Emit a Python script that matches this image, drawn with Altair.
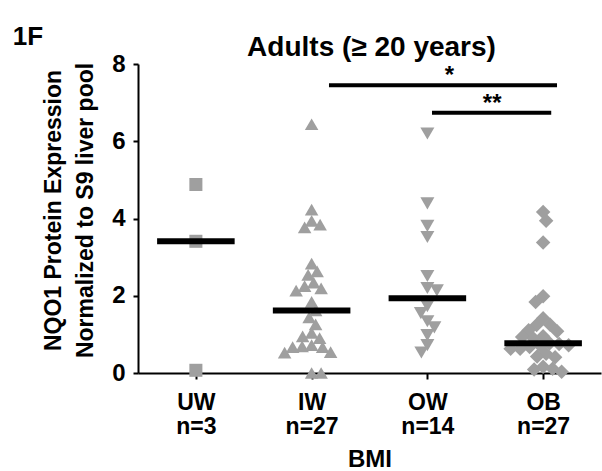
import json
import numpy as np
import pandas as pd
import altair as alt

FONT = "Liberation Sans"

panel_label = "1F"
title_text = "Adults (≥ 20 years)"
y_title = ["NQO1 Protein Expression", "Normalized to S9 liver pool"]
x_title = "BMI"
groups = ["UW", "IW", "OW", "OB"]
group_n = ["n=3", "n=27", "n=14", "n=27"]
group_shapes = ["square", "triangle-up", "triangle-down", "diamond"]
y_ticks = [0, 2, 4, 6, 8]

uw_values = [4.88, 3.41, 0.07]
iw_values = [6.44, 4.23, 3.94, 3.84, 3.77, 2.83, 2.63, 2.54, 2.34, 2.25, 2.19,
             2.13, 1.84, 1.62, 1.44, 1.26, 1.04, 0.95, 0.90, 0.72, 0.69, 0.67,
             0.67, 0.54, 0.53, 0.0, 0.0]
ow_values = [6.20, 4.39, 3.81, 3.52, 2.51, 2.20, 2.14, 1.73, 1.55, 1.34, 1.18,
             0.98, 0.72, 0.53]
ob_values = [4.17, 3.94, 3.38, 1.99, 1.84, 1.42, 1.25, 1.24, 1.11, 1.08, 0.95,
             0.93, 0.89, 0.77, 0.75, 0.72, 0.70, 0.67, 0.63, 0.63, 0.50, 0.43,
             0.41, 0.16, 0.11, 0.09, 0.03]

sig_labels = ["*", "**"]
sig_levels = [7.45, 6.74]
sig_x0 = [1.15, 2.04]
sig_x1 = [3.12, 3.07]
sig_label_x = [2.19, 2.56]

W, H = 463, 309
X_DOMAIN = [-0.5, 3.5]
Y_DOMAIN = [0, 8]
PX_X = W / (X_DOMAIN[1] - X_DOMAIN[0])
PX_Y = H / (Y_DOMAIN[1] - Y_DOMAIN[0])


def dodge(values, d=9.3, step=0.5):
    """Simple beeswarm: push each point sideways until it no longer overlaps."""
    order = sorted(range(len(values)), key=lambda i: -values[i])
    placed = []
    offs = [0.0] * len(values)
    flip = 1
    for i in order:
        ypx = values[i] * PX_Y
        k = 0
        found = None
        while found is None:
            cands = [0.0] if k == 0 else [flip * k * step, -flip * k * step]
            for c in cands:
                if all((c - px) ** 2 + (ypx - py) ** 2 >= d * d for px, py in placed):
                    found = c
                    break
            k += 1
        if found != 0:
            flip = -flip
        placed.append((found, ypx))
        offs[i] = found / PX_X
    return offs


series = [uw_values, iw_values, ow_values, ob_values]
rows = []
med_rows = []
for gi, (g, vals) in enumerate(zip(groups, series)):
    offs = dodge(vals)
    for v, o in zip(vals, offs):
        rows.append({"group": g, "value": v, "xpos": gi + o})
    med_rows.append({"group": g, "median": float(np.median(vals)),
                     "x0": gi - 0.335, "x1": gi + 0.335})
points_df = pd.DataFrame(rows)
med_df = pd.DataFrame(med_rows)
sig_df = pd.DataFrame({"label": sig_labels, "level": sig_levels,
                       "x0": sig_x0, "x1": sig_x1, "xm": sig_label_x})
panel_df = pd.DataFrame({"label": [panel_label]})
title_df = pd.DataFrame({"label": [title_text]})

label_arr = json.dumps([[g, n] for g, n in zip(groups, group_n)])

xscale = alt.Scale(domain=X_DOMAIN, nice=False, zero=False)
yscale = alt.Scale(domain=Y_DOMAIN, nice=False)

x_axis = alt.Axis(
    values=[0, 1, 2, 3], labelExpr=f"{label_arr}[datum.value]", title=x_title,
    grid=False, tickSize=6, tickWidth=2, tickColor="black",
    domainWidth=2, domainColor="black",
    labelFont=FONT, labelFontSize=23, labelFontWeight="bold", labelColor="black",
    labelBaseline="alphabetic", labelPadding=30, labelLineHeight=24,
    labelOverlap=False, labelFlush=False,
    titleFont=FONT, titleFontSize=24, titleFontWeight="bold", titleColor="black",
    titleBaseline="alphabetic", titleY=93,
)
y_axis = alt.Axis(
    values=y_ticks, title=y_title, grid=False,
    tickSize=5, tickWidth=2, tickColor="black",
    domainWidth=2, domainColor="black",
    labelFont=FONT, labelFontSize=24, labelFontWeight="bold", labelColor="black",
    labelPadding=8,
    titleFont=FONT, titleFontSize=23, titleFontWeight="bold", titleColor="black",
    titleAngle=270, titleAlign="center", titleBaseline="alphabetic",
    titleX=-78, titleY=146, titleLineHeight=32,
)

points = alt.Chart(points_df).mark_point(filled=True, opacity=1, color="#9f9f9f").encode(
    x=alt.X("xpos:Q", scale=xscale, axis=x_axis),
    y=alt.Y("value:Q", scale=yscale, axis=y_axis),
    shape=alt.Shape("group:N", scale=alt.Scale(domain=groups, range=group_shapes), legend=None),
    size=alt.Size("group:N", scale=alt.Scale(domain=groups, range=[170, 210, 210, 180]), legend=None),
)

medians = alt.Chart(med_df).mark_rule(color="black", strokeWidth=6).encode(
    x="x0:Q", x2="x1:Q", y="median:Q"
)

sig_bars = alt.Chart(sig_df).mark_rule(color="black", strokeWidth=4).encode(
    x="x0:Q", x2="x1:Q", y="level:Q"
)
sig_text = alt.Chart(sig_df).mark_text(
    font=FONT, fontSize=24, fontWeight="bold", color="black",
    baseline="alphabetic", dy=-2
).encode(x="xm:Q", y="level:Q", text="label:N")

panel = alt.Chart(panel_df).mark_text(
    font=FONT, fontSize=26, fontWeight="bold", color="black",
    align="center", baseline="middle"
).encode(x=alt.value(-110), y=alt.value(-27), text="label:N")

title = alt.Chart(title_df).mark_text(
    font=FONT, fontSize=28, fontWeight="bold", color="black",
    align="center", baseline="alphabetic"
).encode(x=alt.value(W / 2 + 2), y=alt.value(-8), text="label:N")

chart = alt.layer(points, medians, sig_bars, sig_text, panel, title).properties(
    width=W, height=H,
    autosize=alt.AutoSizeParams(type="none"),
    padding={"left": 138, "top": 64, "right": 1, "bottom": 98},
).configure_view(stroke=None)

chart.save("out.html", embed_options={"renderer": "svg", "actions": False})
